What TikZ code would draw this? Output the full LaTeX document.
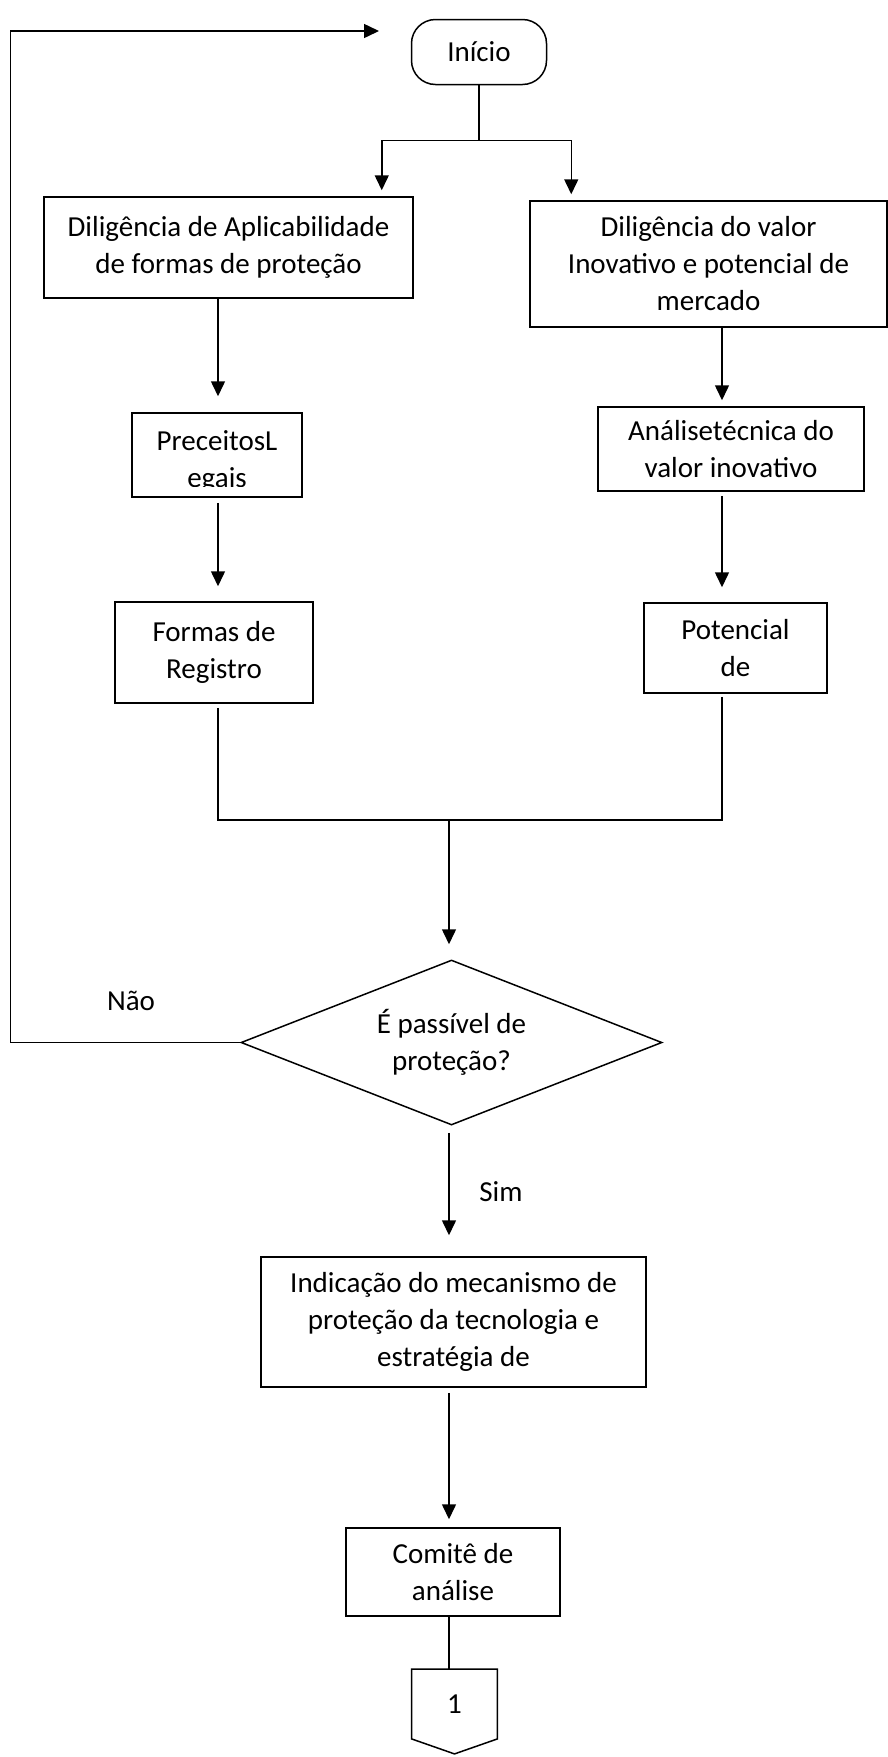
\documentclass[tikz,border=0pt]{standalone}
\usepackage{fontspec}
\setmainfont{Carlito}
\usetikzlibrary{arrows.meta,positioning,shapes.geometric,calc}

\tikzset{
  procbox/.style={draw,line width=0.75pt,align=center,inner sep=0pt},
  decbox/.style={draw,diamond,aspect=2.55,line width=0.75pt,align=center,inner sep=0pt},
  flow/.style={-{Triangle[length=7.5pt,width=7pt]},line width=0.75pt},
  link/.style={line width=0.75pt},
}

\begin{document}
\begin{tikzpicture}[x=0.5pt,y=-0.5pt,font=\fontsize{14.5}{18.5}\selectfont]
    \useasboundingbox (0,0) rectangle (888,1757);

    \node[procbox,rounded corners=12pt,minimum width=67.5pt,minimum height=32.5pt] (start) at (479,52) {Início};
    \node[procbox,minimum width=184.5pt,minimum height=50.5pt] (dil1) at (228.5,247.5) {Diligência de Aplicabilidade\\de formas de proteção};
    \node[procbox,minimum width=178.5pt,minimum height=63pt] (dil2) at (708.5,264) {Diligência do valor\\Inovativo e potencial de\\mercado};
    % texto cortado na caixa, como no original
    \node[procbox,minimum width=85pt,minimum height=42pt,
          path picture={
            \clip ([yshift=5.5pt]path picture bounding box.south west) rectangle (path picture bounding box.north east);
            \node[align=center,inner sep=0pt] at ([yshift=-3.25pt]path picture bounding box.center) {PreceitosL\\egais};
          }] (prec) at (217,455) {};
    \node[procbox,minimum width=133pt,minimum height=42pt] (ana) at (731,449) {Análisetécnica do\\valor inovativo};
    \node[procbox,minimum width=99pt,minimum height=50.5pt] (formas) at (214,652.5) {Formas de\\Registro};
    \node[procbox,minimum width=91.5pt,minimum height=45pt] (pot) at (735.5,648) {Potencial\\de};
    \node[decbox,minimum width=210.5pt,minimum height=82.5pt] (dec) at (451.5,1042.5) {É passível de\\proteção?};
    \node[procbox,minimum width=192.5pt,minimum height=65pt] (ind) at (453.5,1322) {Indicação do mecanismo de\\proteção da tecnologia e\\estratégia de};
    \node[procbox,minimum width=107pt,minimum height=44pt] (com) at (453,1572) {Comitê de\\análise};
    \node[minimum width=42.5pt,minimum height=34.5pt,inner sep=0pt] (offpage) at (454.5,1704) {1};
    \draw[link] (offpage.north west) -- (offpage.north east) -- (offpage.south east)
      -- ($(offpage.south)+(0,15)$) -- (offpage.south west) -- cycle;

    \node (no) at (131,1001) {Não};
    \node (yes) at (501,1192) {Sim};

    \coordinate (colL) at (218,0);
    \coordinate (colR) at (722,0);
    \coordinate (merge) at (449,820);
    \coordinate (loopend) at (379,31);

    \draw[link] (start.south) -- ++(0,55) coordinate (split);
    \draw[flow] (split) -| ($(dil1.north east)+(-32,-6)$);
    \draw[flow] (split) -| ($(dil2.north west)+(42,-6)$);
    \draw[flow,shorten >=8pt] (dil1.south -| colL) -- (prec.north -| colL);
    \draw[flow,shorten <=2.5pt,shorten >=7.5pt] (prec.south -| colL) -- (formas.north -| colL);
    \draw[flow,shorten >=3pt] (dil2.south -| colR) -- (ana.north -| colR);
    \draw[flow,shorten <=2pt,shorten >=7.5pt] (ana.south -| colR) -- (pot.north -| colR);
    \draw[link,shorten <=2pt] (formas.south -| colL) |- (merge);
    \draw[link,shorten <=1.5pt] (pot.south -| colR) |- (merge);
    \draw[flow,shorten >=7.5pt] (merge) -- (dec.north -| merge);
    \draw[flow] (dec.west) -- ++(-230,0) |- (loopend);
    \draw[flow,shorten <=3.5pt,shorten >=10.5pt] (dec.south -| merge) -- (ind.north -| merge);
    \draw[flow,shorten <=2.5pt,shorten >=4pt] (ind.south -| merge) -- (com.north -| merge);
    \draw[link] (com.south -| merge) -- (offpage.north -| merge);
  \end{tikzpicture}
\end{document}
